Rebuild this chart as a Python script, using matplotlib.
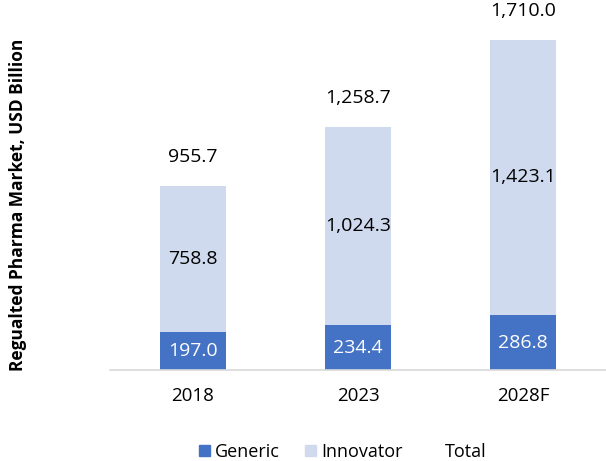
import numpy as np
import matplotlib.pyplot as plt
from matplotlib.patches import Patch

plt.rcParams['font.family'] = ['Open Sans', 'DejaVu Sans']

years = ['2018', '2023', '2028F']
generic = [197.0, 234.4, 286.8]
innovator = [758.8, 1024.3, 1423.1]
total = [955.7, 1258.7, 1710.0]

c_gen = '#4472C4'
c_inn = '#CFDAEF'

fig = plt.figure(figsize=(6.06, 4.61), dpi=100)
ax = fig.add_axes([0.1815, 0.197, 0.8185, 0.7536])

x = np.arange(len(years))
w = 0.4
ax.bar(x, generic, w, color=c_gen, label='Generic')
ax.bar(x, innovator, w, bottom=generic, color=c_inn, label='Innovator')

fs = 14
for i in range(len(years)):
    ax.text(x[i], generic[i] / 2, f'{generic[i]:,.1f}', ha='center', va='center',
            color='white', fontsize=fs)
    ax.text(x[i], generic[i] + innovator[i] / 2, f'{innovator[i]:,.1f}', ha='center',
            va='center', color='black', fontsize=fs)
    ax.annotate(f'{total[i]:,.1f}', (x[i], total[i]), xytext=(0, 21),
                textcoords='offset points', ha='center', va='center', fontsize=fs)

ax.set_xlim(-0.5, 2.5)
ax.set_ylim(0, 1800)
ax.set_yticks([])
ax.set_xticks(x)
ax.set_xticklabels(years, fontsize=13.5)
ax.tick_params(axis='x', length=0, pad=12)
for s in ['top', 'right', 'left']:
    ax.spines[s].set_visible(False)
ax.spines['bottom'].set_color('#D9D9D9')
ax.spines['bottom'].set_linewidth(1.2)

fig.text(0.03, 0.555, 'Regualted Pharma Market, USD Billion', rotation=90,
         ha='center', va='center', fontsize=12.5, fontweight='bold')

handles = [Patch(color=c_gen, label='Generic'), Patch(color=c_inn, label='Innovator'),
           Patch(color='none', label='Total')]
fig.legend(handles=handles, loc='center', bbox_to_anchor=(0.565, 0.02), ncol=3,
           frameon=False, fontsize=13, handlelength=0.6, handleheight=0.6,
           handletextpad=0.3, columnspacing=1.4)

fig.savefig('out.png', dpi=100)
